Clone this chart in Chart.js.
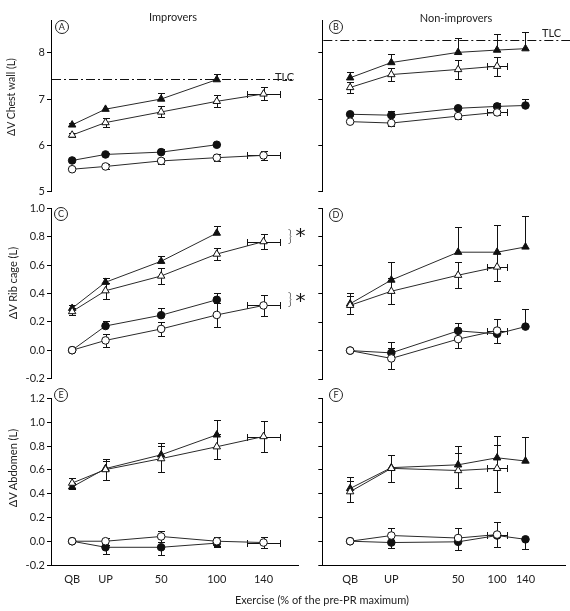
<!DOCTYPE html>
<html><head><meta charset="utf-8">
<script src="https://cdn.jsdelivr.net/npm/chart.js@4.4.1/dist/chart.umd.min.js"></script>
<style>
html,body{margin:0;padding:0;background:#fff;}
body{width:570px;height:611px;position:relative;overflow:hidden;font-family:Lato,"Open Sans",sans-serif;color:#222;}
canvas{position:absolute;}
.t{position:absolute;font-size:11px;white-space:nowrap;line-height:1;color:#222;}
.c{transform:translate(-50%,-50%);}
.r{transform:translate(-50%,-50%) rotate(-90deg);}
.lt{position:absolute;width:12px;height:12px;border:1px solid #222;border-radius:50%;transform:translate(-50%,-50%);font-size:9px;line-height:12px;text-align:center;color:#222;}
.br{position:absolute;font-size:15px;line-height:1;transform:translate(-50%,-50%);color:#222;font-weight:300;}
.ast{position:absolute;font-size:20px;line-height:1;transform:translate(-50%,-35%);color:#111;font-family:"DejaVu Sans",sans-serif;}
</style></head>
<body>
<canvas id="pA" width="300" height="200" style="left:0;top:0"></canvas>
<canvas id="pB" width="270" height="200" style="left:300px;top:0"></canvas>
<canvas id="pC" width="300" height="190" style="left:0;top:200px"></canvas>
<canvas id="pD" width="270" height="190" style="left:300px;top:200px"></canvas>
<canvas id="pE" width="300" height="221" style="left:0;top:390px"></canvas>
<canvas id="pF" width="270" height="221" style="left:300px;top:390px"></canvas>

<div class="t c" style="left:173px;top:16px">Improvers</div>
<div class="t c" style="left:456px;top:17px">Non-improvers</div>
<div class="t r" style="left:11px;top:97px;font-size:10.5px">ΔV Chest wall (L)</div>
<div class="t r" style="left:12px;top:283px">ΔV Rib cage (L)</div>
<div class="t r" style="left:12px;top:468px">ΔV Abdomen (L)</div>
<div class="t c" style="left:322px;top:599px">Exercise (% of the pre-PR maximum)</div>
<div class="t" style="left:275px;top:71px">TLC</div>
<div class="t" style="left:542px;top:27px">TLC</div>
<div class="lt" style="left:61.7px;top:27.3px">A</div>
<div class="lt" style="left:336px;top:26.7px">B</div>
<div class="lt" style="left:61px;top:214px">C</div>
<div class="lt" style="left:336px;top:214.5px">D</div>
<div class="lt" style="left:61px;top:395px">E</div>
<div class="lt" style="left:336px;top:394.5px">F</div>
<div class="br" style="left:290px;top:235.5px">}</div>
<div class="br" style="left:290px;top:299px">}</div>
<div class="ast" style="left:300.5px;top:232px">*</div>
<div class="ast" style="left:300.5px;top:297px">*</div>

<script>
// ---------- categories / tick labels ----------
const xLabels = ['QB', 'UP', '50', '100', '140'];
const xPosImprovers = [-30, 0, 50, 100, 142];
const xPosNonImprovers = [-24, 13, 73, 108, 133.5];
const xErrImprovers = [0, 0, 0, 0, 15];
const xErrNonImprovers = [0, 0, 0, 9.3, 0];

const yTicksChestWall = [5, 6, 7, 8];
const yTicksRibCage = [-0.2, 0, 0.2, 0.4, 0.6, 0.8, 1.0];
const yTicksAbdomen = [-0.2, 0, 0.2, 0.4, 0.6, 0.8, 1.0, 1.2];
const tlcImprovers = 7.43;
const tlcNonImprovers = 8.28;

// ---------- A: chest wall, improvers ----------
const chestImpTriFilled = [6.44, 6.78, 7.00, 7.42, null];
const chestImpTriFilledErr = [0.04, 0.03, 0.12, 0.12, null];
const chestImpTriOpen = [6.22, 6.49, 6.72, 6.95, 7.11];
const chestImpTriOpenErr = [0.04, 0.09, 0.12, 0.13, 0.14];
const chestImpCircFilled = [5.67, 5.80, 5.85, 6.01, null];
const chestImpCircFilledErr = [0.02, 0.03, 0.06, 0.02, null];
const chestImpCircOpen = [5.48, 5.54, 5.66, 5.73, 5.78];
const chestImpCircOpenErr = [0.02, 0.05, 0.07, 0.08, 0.09];

// ---------- B: chest wall, non-improvers ----------
const chestNonTriFilled = [7.46, 7.79, 8.01, 8.06, 8.09];
const chestNonTriFilledErr = [0.13, 0.19, 0.31, 0.35, 0.36];
const chestNonTriOpen = [7.25, 7.53, 7.64, 7.71, null];
const chestNonTriOpenErr = [0.12, 0.15, 0.20, 0.21, null];
const chestNonCircFilled = [6.67, 6.65, 6.80, 6.84, 6.86];
const chestNonCircFilledErr = [0.03, 0.10, 0.05, 0.08, 0.14];
const chestNonCircOpen = [6.51, 6.48, 6.63, 6.71, null];
const chestNonCircOpenErr = [0.02, 0.06, 0.06, 0.06, null];

// ---------- C: rib cage, improvers ----------
const ribImpTriFilled = [0.296, 0.48, 0.628, 0.827, null];
const ribImpTriFilledErr = [0.023, 0.028, 0.035, 0.049, null];
const ribImpTriOpen = [0.273, 0.42, 0.524, 0.679, 0.767];
const ribImpTriOpenErr = [0.025, 0.058, 0.056, 0.045, 0.051];
const ribImpCircFilled = [0, 0.171, 0.247, 0.356, null];
const ribImpCircFilledErr = [0, 0.037, 0.049, 0.051, null];
const ribImpCircOpen = [0, 0.069, 0.15, 0.249, 0.316];
const ribImpCircOpenErr = [0, 0.046, 0.052, 0.083, 0.072];

// ---------- D: rib cage, non-improvers ----------
const ribNonTriFilled = [0.33, 0.497, 0.693, 0.693, 0.73];
const ribNonTriFilledErr = [0.074, 0.129, 0.18, 0.192, 0.217];
const ribNonTriOpen = [0.319, 0.418, 0.531, 0.589, null];
const ribNonTriOpenErr = [0.062, 0.092, 0.09, 0.097, null];
const ribNonCircFilled = [0, -0.016, 0.139, 0.118, 0.169];
const ribNonCircFilledErr = [0, 0.08, 0.058, 0.035, 0.122];
const ribNonCircOpen = [0, -0.055, 0.081, 0.141, null];
const ribNonCircOpenErr = [0, 0.072, 0.062, 0.085, null];

// ---------- E: abdomen, improvers ----------
const abdImpTriFilled = [0.457, 0.611, 0.727, 0.895, null];
const abdImpTriFilledErr = [0.035, 0.06, 0.10, 0.127, null];
const abdImpTriOpen = [0.489, 0.603, 0.695, 0.795, 0.881];
const abdImpTriOpenErr = [0.046, 0.086, 0.11, 0.105, 0.13];
const abdImpCircFilled = [0, -0.051, -0.051, -0.016, null];
const abdImpCircFilledErr = [0, 0.054, 0.068, 0.03, null];
const abdImpCircOpen = [0, 0, 0.04, 0, -0.011];
const abdImpCircOpenErr = [0, 0.03, 0.043, 0.038, 0.05];

// ---------- F: abdomen, non-improvers ----------
const abdNonTriFilled = [0.444, 0.619, 0.643, 0.702, 0.675];
const abdNonTriFilledErr = [0.097, 0.108, 0.161, 0.186, 0.199];
const abdNonTriOpen = [0.417, 0.613, 0.595, 0.613, null];
const abdNonTriOpenErr = [0.09, 0.116, 0.148, 0.2, null];
const abdNonCircFilled = [0, -0.011, -0.005, 0.048, 0.016];
const abdNonCircFilledErr = [0, 0.05, 0.07, 0.10, 0.08];
const abdNonCircOpen = [0, 0.048, 0.027, 0.056, null];
const abdNonCircOpenErr = [0, 0.062, 0.083, 0.103, null];

// ---------- drawing ----------
const STYLE = {
  triFilled: { pointStyle: 'triangle', radius: 4.3, bg: '#111', order: 1 },
  triOpen:   { pointStyle: 'triangle', radius: 4.3, bg: '#fff', order: 0 },
  circFilled:{ pointStyle: 'circle',   radius: 3.8, bg: '#111', order: 1 },
  circOpen:  { pointStyle: 'circle',   radius: 3.8, bg: '#fff', order: 0 }
};

function series(kind, vals, errs, xPos, xErrs, dir) {
  const st = STYLE[kind];
  const open = kind.endsWith('Open');
  const data = [];
  vals.forEach((v, i) => {
    if (v === null) return;
    data.push({ x: xPos[i], y: v, ey: errs[i] || 0, ex: open ? (xErrs[i] || 0) : 0 });
  });
  return {
    type: 'scatter', data, showLine: true,
    borderColor: '#2a2a2a', borderWidth: 1,
    pointStyle: st.pointStyle, pointRadius: st.radius, pointHoverRadius: st.radius,
    pointBackgroundColor: st.bg, pointBorderColor: '#111', pointBorderWidth: 1,
    clip: false, order: st.order, errDir: dir
  };
}

const errorBars = {
  id: 'errorBars',
  beforeDatasetsDraw(chart) {
    const ctx = chart.ctx, xs = chart.scales.x, ys = chart.scales.y;
    ctx.save();
    ctx.strokeStyle = '#111';
    ctx.lineWidth = 1;
    const cap = 3.5;
    chart.data.datasets.forEach(ds => {
      ds.data.forEach(p => {
        const px = Math.round(xs.getPixelForValue(p.x)) + 0.5;
        const py = ys.getPixelForValue(p.y);
        ctx.beginPath();
        if (p.ey) {
          const up = Math.round(ys.getPixelForValue(p.y + p.ey)) + 0.5;
          const dn = Math.round(ys.getPixelForValue(p.y - p.ey)) + 0.5;
          if (ds.errDir !== 'down') {
            ctx.moveTo(px, py); ctx.lineTo(px, up);
            ctx.moveTo(px - cap, up); ctx.lineTo(px + cap, up);
          }
          if (ds.errDir !== 'up') {
            ctx.moveTo(px, py); ctx.lineTo(px, dn);
            ctx.moveTo(px - cap, dn); ctx.lineTo(px + cap, dn);
          }
        }
        if (p.ex) {
          const yy = Math.round(py) + 0.5;
          const l = Math.round(xs.getPixelForValue(p.x - p.ex)) + 0.5;
          const r = Math.round(xs.getPixelForValue(p.x + p.ex)) + 0.5;
          ctx.moveTo(l, yy); ctx.lineTo(r, yy);
          ctx.moveTo(l, yy - cap); ctx.lineTo(l, yy + cap);
          ctx.moveTo(r, yy - cap); ctx.lineTo(r, yy + cap);
        }
        ctx.stroke();
      });
    });
    ctx.restore();
  }
};

const tlcLine = {
  id: 'tlcLine',
  beforeDatasetsDraw(chart, args, opts) {
    if (opts.value == null) return;
    const ctx = chart.ctx, a = chart.chartArea;
    const y = Math.round(chart.scales.y.getPixelForValue(opts.value)) + 0.5;
    ctx.save();
    ctx.strokeStyle = '#111';
    ctx.lineWidth = 1;
    ctx.setLineDash([9, 3, 2, 3]);
    ctx.beginPath();
    ctx.moveTo(a.left + 1, y);
    ctx.lineTo(a.right + opts.extend, y);
    ctx.stroke();
    ctx.restore();
  }
};

function makePanel(id, p) {
  const font = { family: 'Lato', size: 11 };
  new Chart(document.getElementById(id), {
    type: 'scatter',
    data: { datasets: p.datasets },
    plugins: [errorBars, tlcLine],
    options: {
      responsive: false, animation: false, events: [],
      layout: { autoPadding: false, padding: p.padding },
      plugins: {
        legend: { display: false }, tooltip: { enabled: false },
        tlcLine: { value: p.tlc, extend: p.tlcExtend || 0 }
      },
      scales: {
        x: {
          type: 'linear', min: p.xMin, max: p.xMax, display: p.showX,
          afterBuildTicks: s => { s.ticks = p.xPos.map(v => ({ value: v })); },
          afterFit: s => { s.height = p.showX ? 46 : 0; },
          ticks: { callback: (v, i) => xLabels[i], font, color: '#222', padding: 8, maxRotation: 0, autoSkip: false },
          grid: { display: false, drawTicks: false },
          border: { display: true, color: '#000', width: 1 }
        },
        y: {
          type: 'linear', min: p.yMin, max: p.yMax,
          afterBuildTicks: s => { s.ticks = p.yTicks.map(v => ({ value: v })); },
          afterFit: s => { s.width = p.yWidth; },
          ticks: { callback: v => p.yLabels ? p.yFmt(v) : '', font, color: '#222', padding: 2, autoSkip: false },
          grid: { display: true, drawOnChartArea: false, drawTicks: true, tickLength: 4, color: '#000', tickColor: '#000', lineWidth: 1 },
          border: { display: true, color: '#000', width: 1 }
        }
      }
    }
  });
}

const fmtInt = v => String(Math.round(v));
const fmt1 = v => (Math.abs(v) < 1e-9 ? 0 : v).toFixed(1);

function build() {
  Chart.defaults.font.family = 'Lato';
  const L = { xPos: xPosImprovers, xMin: -49, xMax: 173, yWidth: 51, yLabels: true };
  const R = { xPos: xPosNonImprovers, xMin: -49, xMax: 169, yWidth: 22.3, yLabels: false };

  makePanel('pA', Object.assign({}, L, {
    showX: false, padding: { top: 20.5, right: 2, bottom: 6, left: 0 },
    yMin: 5, yMax: 8.7, yTicks: yTicksChestWall, yFmt: fmtInt, tlc: tlcImprovers, tlcExtend: -6,
    datasets: [
      series('circOpen', chestImpCircOpen, chestImpCircOpenErr, xPosImprovers, xErrImprovers, 'both'),
      series('triOpen', chestImpTriOpen, chestImpTriOpenErr, xPosImprovers, xErrImprovers, 'both'),
      series('circFilled', chestImpCircFilled, chestImpCircFilledErr, xPosImprovers, xErrImprovers, 'up'),
      series('triFilled', chestImpTriFilled, chestImpTriFilledErr, xPosImprovers, xErrImprovers, 'up')
    ]
  }));
  makePanel('pB', Object.assign({}, R, {
    showX: false, padding: { top: 20.5, right: 5, bottom: 6, left: 0 },
    yMin: 5, yMax: 8.7, yTicks: yTicksChestWall, yFmt: fmtInt, tlc: tlcNonImprovers, tlcExtend: 5,
    datasets: [
      series('circOpen', chestNonCircOpen, chestNonCircOpenErr, xPosNonImprovers, xErrNonImprovers, 'down'),
      series('triOpen', chestNonTriOpen, chestNonTriOpenErr, xPosNonImprovers, xErrNonImprovers, 'both'),
      series('circFilled', chestNonCircFilled, chestNonCircFilledErr, xPosNonImprovers, xErrNonImprovers, 'up'),
      series('triFilled', chestNonTriFilled, chestNonTriFilledErr, xPosNonImprovers, xErrNonImprovers, 'up')
    ]
  }));
  makePanel('pC', Object.assign({}, L, {
    showX: false, padding: { top: 5.7, right: 2, bottom: 11.5, left: 0 },
    yMin: -0.2, yMax: 1.0, yTicks: yTicksRibCage, yFmt: fmt1,
    datasets: [
      series('circOpen', ribImpCircOpen, ribImpCircOpenErr, xPosImprovers, xErrImprovers, 'both'),
      series('triOpen', ribImpTriOpen, ribImpTriOpenErr, xPosImprovers, xErrImprovers, 'both'),
      series('circFilled', ribImpCircFilled, ribImpCircFilledErr, xPosImprovers, xErrImprovers, 'up'),
      series('triFilled', ribImpTriFilled, ribImpTriFilledErr, xPosImprovers, xErrImprovers, 'up')
    ]
  }));
  makePanel('pD', Object.assign({}, R, {
    showX: false, padding: { top: 5.7, right: 5, bottom: 11, left: 0 },
    yMin: -0.2, yMax: 1.0, yTicks: yTicksRibCage, yFmt: fmt1,
    datasets: [
      series('circOpen', ribNonCircOpen, ribNonCircOpenErr, xPosNonImprovers, xErrNonImprovers, 'both'),
      series('triOpen', ribNonTriOpen, ribNonTriOpenErr, xPosNonImprovers, xErrNonImprovers, 'both'),
      series('circFilled', ribNonCircFilled, ribNonCircFilledErr, xPosNonImprovers, xErrNonImprovers, 'up'),
      series('triFilled', ribNonTriFilled, ribNonTriFilledErr, xPosNonImprovers, xErrNonImprovers, 'up')
    ]
  }));
  makePanel('pE', Object.assign({}, L, {
    showX: true, padding: { top: 2.5, right: 2, bottom: 0, left: 0 },
    yMin: -0.2, yMax: 1.2, yTicks: yTicksAbdomen, yFmt: fmt1,
    datasets: [
      series('circOpen', abdImpCircOpen, abdImpCircOpenErr, xPosImprovers, xErrImprovers, 'both'),
      series('triOpen', abdImpTriOpen, abdImpTriOpenErr, xPosImprovers, xErrImprovers, 'both'),
      series('circFilled', abdImpCircFilled, abdImpCircFilledErr, xPosImprovers, xErrImprovers, 'down'),
      series('triFilled', abdImpTriFilled, abdImpTriFilledErr, xPosImprovers, xErrImprovers, 'up')
    ]
  }));
  makePanel('pF', Object.assign({}, R, {
    showX: true, padding: { top: 2.5, right: 5, bottom: 0, left: 0 },
    yMin: -0.2, yMax: 1.2, yTicks: yTicksAbdomen, yFmt: fmt1,
    datasets: [
      series('circOpen', abdNonCircOpen, abdNonCircOpenErr, xPosNonImprovers, xErrNonImprovers, 'up'),
      series('triOpen', abdNonTriOpen, abdNonTriOpenErr, xPosNonImprovers, xErrNonImprovers, 'both'),
      series('circFilled', abdNonCircFilled, abdNonCircFilledErr, xPosNonImprovers, xErrNonImprovers, 'down'),
      series('triFilled', abdNonTriFilled, abdNonTriFilledErr, xPosNonImprovers, xErrNonImprovers, 'up')
    ]
  }));
}

if (document.fonts && document.fonts.load) {
  document.fonts.load('11px Lato').then(build, build);
} else {
  build();
}
</script>
</body></html>
